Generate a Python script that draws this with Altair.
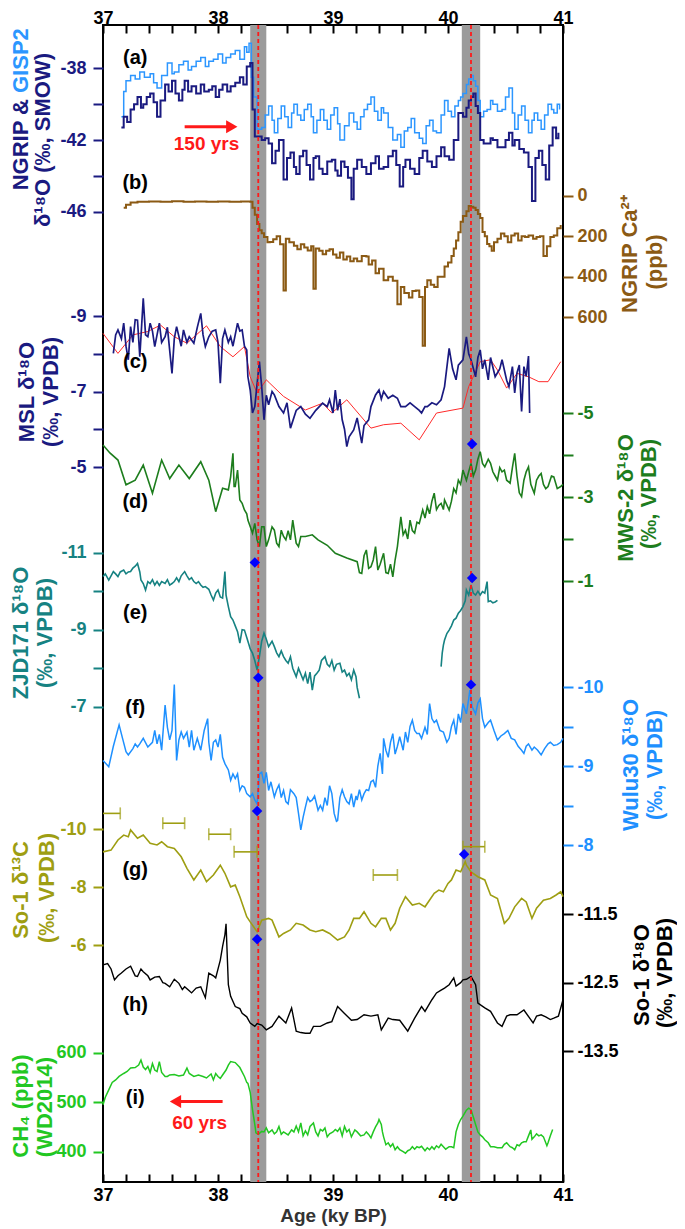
import json
import altair as alt
import pandas as pd

FONT = "Liberation Sans"

# ---------------- data ----------------
AGE_TICKS = [37.0, 37.2, 37.4, 37.6, 37.8, 38.0, 38.2, 38.4, 38.6, 38.8, 39.0,
             39.2, 39.4, 39.6, 39.8, 40.0, 40.2, 40.4, 40.6, 40.8, 41.0]
BAND_START = [38.28, 40.12]
BAND_END = [38.42, 40.28]
EVENT_AGE = [38.35, 40.20]

GISP2 = [(37.16, -40.7), (37.18, -39.3), (37.20, -38.7), (37.24, -38.4), (37.28, -38.6), (37.32, -38.2),
         (37.36, -38.5), (37.41, -38.3), (37.44, -38.8), (37.47, -39.1), (37.51, -38.4), (37.56, -37.7),
         (37.60, -38.3), (37.62, -38.2), (37.66, -37.8), (37.70, -37.6), (37.74, -38.1), (37.77, -37.9),
         (37.81, -37.6), (37.85, -37.4), (37.89, -37.9), (37.92, -37.6), (37.96, -37.5), (38.00, -37.2),
         (38.04, -37.7), (38.07, -37.4), (38.11, -37.2), (38.15, -37.0), (38.19, -37.5), (38.23, -36.8),
         (38.25, -37.1), (38.27, -36.6), (38.29, -38.5), (38.31, -39.6), (38.34, -41.4), (38.38, -41.3),
         (38.41, -40.6), (38.44, -40.1), (38.47, -40.9), (38.49, -41.6), (38.52, -40.8), (38.55, -40.1),
         (38.58, -40.7), (38.61, -41.3), (38.64, -40.5), (38.66, -40.0), (38.69, -40.6), (38.72, -40.9),
         (38.75, -40.3), (38.78, -40.0), (38.81, -40.7), (38.83, -41.6), (38.86, -40.9), (38.89, -40.3),
         (38.92, -40.9), (38.95, -41.4), (38.98, -40.6), (39.01, -40.2), (39.04, -41.1), (39.06, -42.0),
         (39.10, -41.2), (39.14, -40.5), (39.18, -41.0), (39.21, -41.4), (39.24, -40.7), (39.27, -40.3),
         (39.30, -40.0), (39.33, -39.6), (39.36, -40.4), (39.39, -40.9), (39.42, -40.2), (39.44, -40.5),
         (39.48, -41.3), (39.52, -42.0), (39.56, -41.7), (39.59, -42.4), (39.62, -41.5), (39.65, -41.3),
         (39.68, -40.8), (39.71, -41.6), (39.75, -41.9), (39.78, -42.2), (39.81, -41.2), (39.84, -40.9),
         (39.87, -41.5), (39.90, -41.6), (39.94, -40.6), (39.97, -39.8), (40.00, -40.4), (40.03, -40.7),
         (40.06, -40.1), (40.09, -39.8), (40.11, -39.6), (40.13, -39.4), (40.16, -38.9), (40.18, -38.6),
         (40.20, -38.4), (40.22, -38.7), (40.24, -39.0), (40.26, -39.8), (40.28, -40.7), (40.31, -40.4),
         (40.34, -40.3), (40.37, -39.8), (40.39, -40.0), (40.43, -40.4), (40.47, -40.3), (40.50, -39.6),
         (40.53, -39.1), (40.56, -40.5), (40.58, -41.4), (40.61, -40.6), (40.64, -40.1), (40.67, -40.9),
         (40.70, -41.6), (40.73, -40.9), (40.75, -40.5), (40.78, -40.9), (40.81, -41.4), (40.84, -40.6),
         (40.87, -40.0), (40.90, -40.3), (40.92, -40.5), (40.95, -40.0), (40.97, -40.3)]

NGRIP = [(37.16, -41.3), (37.18, -40.7), (37.21, -41.0), (37.24, -40.3), (37.27, -40.0), (37.30, -39.6),
         (37.33, -40.2), (37.35, -40.0), (37.38, -39.6), (37.41, -39.4), (37.44, -39.9), (37.47, -40.7),
         (37.50, -39.8), (37.54, -38.9), (37.57, -39.3), (37.60, -38.7), (37.63, -39.4), (37.66, -39.8),
         (37.69, -39.2), (37.71, -38.7), (37.74, -39.3), (37.77, -39.0), (37.81, -39.4), (37.85, -38.9),
         (37.88, -39.3), (37.92, -39.2), (37.95, -39.0), (37.98, -39.6), (38.01, -39.2), (38.04, -38.9),
         (38.08, -39.3), (38.11, -39.0), (38.15, -38.8), (38.19, -38.5), (38.22, -38.9), (38.25, -37.9),
         (38.28, -37.7), (38.30, -40.3), (38.32, -41.8), (38.34, -41.8), (38.38, -42.0), (38.41, -41.9),
         (38.44, -42.2), (38.47, -43.3), (38.50, -42.6), (38.53, -42.0), (38.57, -44.2), (38.60, -43.0),
         (38.63, -42.7), (38.66, -43.5), (38.68, -43.9), (38.71, -42.9), (38.74, -42.6), (38.77, -43.4),
         (38.80, -44.2), (38.83, -43.0), (38.85, -42.9), (38.88, -43.6), (38.91, -43.9), (38.95, -43.2),
         (38.99, -43.1), (39.02, -43.7), (39.04, -44.0), (39.07, -43.2), (39.10, -43.5), (39.13, -44.1),
         (39.16, -45.3), (39.18, -43.6), (39.21, -43.1), (39.25, -43.5), (39.29, -43.9), (39.33, -43.3),
         (39.37, -42.9), (39.40, -43.6), (39.44, -43.5), (39.48, -42.9), (39.52, -42.6), (39.55, -43.4),
         (39.58, -44.6), (39.61, -43.5), (39.63, -43.1), (39.67, -43.6), (39.71, -43.9), (39.75, -43.0),
         (39.78, -42.6), (39.82, -43.2), (39.86, -43.5), (39.90, -42.9), (39.94, -42.4), (39.97, -42.9),
         (40.01, -43.1), (40.05, -42.0), (40.09, -40.5), (40.13, -40.7), (40.16, -40.2), (40.18, -39.8),
         (40.20, -39.6), (40.22, -39.4), (40.24, -40.1), (40.26, -40.5), (40.28, -42.0), (40.31, -42.2),
         (40.34, -42.2), (40.37, -41.9), (40.39, -42.0), (40.43, -42.4), (40.47, -42.4), (40.50, -42.0),
         (40.53, -41.6), (40.56, -42.3), (40.58, -42.0), (40.62, -42.5), (40.66, -42.7), (40.70, -43.5),
         (40.73, -45.4), (40.76, -43.0), (40.79, -42.6), (40.82, -43.4), (40.85, -44.2), (40.88, -42.3),
         (40.91, -41.3), (40.94, -41.9), (40.96, -41.6)]

CA = [(37.18, 60), (37.20, 45), (37.24, 34), (37.30, 30), (37.40, 28), (37.50, 30), (37.60, 27), (37.70, 30),
      (37.80, 28), (37.90, 30), (38.00, 29), (38.10, 30), (38.20, 28), (38.28, 30), (38.30, 60), (38.32, 94),
      (38.34, 140), (38.36, 170), (38.38, 185), (38.40, 204), (38.43, 230), (38.45, 228), (38.48, 215),
      (38.51, 200), (38.54, 240), (38.57, 468), (38.59, 213), (38.62, 230), (38.66, 247), (38.69, 264),
      (38.72, 240), (38.75, 255), (38.78, 270), (38.81, 250), (38.83, 459), (38.85, 260), (38.88, 272),
      (38.91, 289), (38.94, 272), (38.97, 264), (39.00, 290), (39.03, 306), (39.06, 280), (39.09, 315),
      (39.12, 300), (39.15, 323), (39.18, 310), (39.21, 323), (39.25, 298), (39.29, 300), (39.31, 340),
      (39.34, 320), (39.37, 383), (39.40, 360), (39.44, 417), (39.48, 400), (39.52, 420), (39.56, 536),
      (39.59, 451), (39.62, 480), (39.66, 502), (39.69, 470), (39.72, 468), (39.75, 500), (39.78, 740),
      (39.80, 450), (39.82, 417), (39.85, 440), (39.88, 451), (39.91, 400), (39.94, 400), (39.97, 349),
      (40.00, 330), (40.03, 298), (40.05, 260), (40.07, 221), (40.09, 180), (40.11, 128), (40.13, 100),
      (40.16, 77), (40.18, 51), (40.20, 55), (40.22, 60), (40.24, 70), (40.26, 90), (40.28, 110),
      (40.30, 179), (40.32, 200), (40.34, 238), (40.36, 250), (40.38, 272), (40.40, 230), (40.43, 213),
      (40.46, 187), (40.49, 200), (40.52, 230), (40.55, 196), (40.58, 187), (40.61, 221), (40.64, 200),
      (40.67, 204), (40.70, 196), (40.74, 213), (40.77, 204), (40.80, 200), (40.83, 298), (40.86, 250),
      (40.89, 204), (40.92, 196), (40.95, 160), (40.98, 145)]

MSL = [(37.09, -8.01), (37.11, -8.5), (37.13, -8.63), (37.16, -8.4), (37.18, -8.81), (37.20, -8.2),
       (37.22, -7.84), (37.24, -8.72), (37.26, -8.3), (37.28, -8.9), (37.30, -8.89), (37.32, -7.92),
       (37.35, -9.47), (37.37, -8.5), (37.39, -8.45), (37.41, -8.81), (37.43, -8.6), (37.45, -8.19),
       (37.49, -8.81), (37.51, -8.3), (37.54, -8.45), (37.56, -8.7), (37.60, -7.48), (37.62, -8.4),
       (37.64, -8.72), (37.68, -8.2), (37.70, -8.63), (37.73, -8.3), (37.75, -8.45), (37.79, -8.28),
       (37.82, -8.7), (37.85, -9.07), (37.87, -8.5), (37.89, -8.19), (37.92, -8.45), (37.95, -8.6),
       (37.98, -8.63), (38.00, -8.3), (38.02, -7.22), (38.04, -8.4), (38.06, -8.63), (38.09, -8.3),
       (38.11, -8.45), (38.13, -8.2), (38.17, -8.81), (38.19, -8.6), (38.21, -8.63), (38.23, -8.2),
       (38.25, -8.10), (38.26, -7.39), (38.28, -7.04), (38.30, -6.43), (38.32, -6.60), (38.34, -7.2),
       (38.36, -7.79), (38.38, -7.13), (38.40, -6.25), (38.42, -6.9), (38.44, -6.65), (38.47, -7.0),
       (38.49, -6.91), (38.53, -6.6), (38.57, -6.43), (38.60, -6.7), (38.63, -6.03), (38.68, -6.5),
       (38.72, -6.60), (38.76, -6.4), (38.80, -6.29), (38.85, -6.5), (38.91, -6.69), (38.95, -6.6),
       (38.97, -6.78), (39.00, -6.43), (39.02, -7.04), (39.04, -6.5), (39.06, -6.8), (39.08, -6.25),
       (39.10, -6.0), (39.12, -5.54), (39.14, -5.8), (39.18, -5.98), (39.21, -6.3), (39.25, -5.63),
       (39.27, -6.1), (39.31, -6.25), (39.33, -6.6), (39.37, -6.91), (39.40, -7.04), (39.42, -6.8),
       (39.44, -7.0), (39.48, -6.82), (39.52, -6.9), (39.56, -6.82), (39.59, -6.6), (39.63, -6.60),
       (39.67, -6.7), (39.71, -6.60), (39.75, -6.5), (39.77, -6.43), (39.80, -6.6), (39.82, -6.60),
       (39.86, -6.7), (39.90, -6.65), (39.94, -6.78), (39.97, -7.13), (40.01, -8.14), (40.04, -7.6),
       (40.07, -7.31), (40.09, -7.7), (40.13, -7.84), (40.16, -8.45), (40.18, -8.0), (40.20, -7.84),
       (40.24, -7.39), (40.26, -7.9), (40.28, -8.10), (40.30, -7.6), (40.32, -7.84), (40.35, -7.31),
       (40.37, -7.9), (40.41, -7.39), (40.45, -7.6), (40.47, -7.84), (40.51, -7.3), (40.53, -7.13),
       (40.56, -7.66), (40.58, -6.96), (40.60, -7.5), (40.62, -7.7), (40.64, -6.47), (40.66, -7.66),
       (40.68, -7.4), (40.70, -7.94), (40.71, -6.43)]

MSL_RED = [(37.00, -8.54), (37.13, -8.01), (37.26, -8.50), (37.39, -8.59), (37.50, -8.76), (37.62, -8.45),
           (37.73, -8.28), (37.90, -8.74), (38.02, -8.19), (38.13, -7.92), (38.23, -8.19), (38.28, -7.39),
           (38.34, -6.96), (38.42, -7.31), (38.45, -7.22), (38.57, -6.87), (38.76, -6.51), (38.91, -6.69),
           (38.99, -6.43), (39.12, -6.78), (39.33, -6.03), (39.44, -6.12), (39.59, -6.16), (39.75, -5.72),
           (39.90, -6.43), (40.13, -6.56), (40.18, -7.13), (40.28, -7.79), (40.37, -7.84), (40.43, -7.57),
           (40.51, -7.09), (40.60, -7.48), (40.70, -7.39), (40.79, -7.26), (40.87, -7.26), (40.98, -7.79)]

MWS2 = [(37.00, -4.24), (37.06, -4.05), (37.13, -3.88), (37.20, -3.29), (37.28, -3.40), (37.35, -3.76),
        (37.43, -3.09), (37.51, -3.88), (37.58, -3.44), (37.66, -3.76), (37.75, -3.44), (37.85, -3.84),
        (37.92, -3.40), (37.98, -2.65), (38.04, -3.21), (38.09, -3.17), (38.11, -3.48), (38.13, -4.04),
        (38.14, -3.25), (38.15, -3.25), (38.17, -3.64), (38.19, -2.93), (38.21, -2.85), (38.23, -2.69),
        (38.25, -2.60), (38.26, -2.45), (38.28, -2.30), (38.30, -2.14), (38.32, -2.37), (38.34, -1.98),
        (38.36, -1.82), (38.38, -2.29), (38.40, -2.29), (38.42, -1.82), (38.44, -1.98), (38.47, -2.29),
        (38.49, -2.21), (38.51, -1.90), (38.53, -1.82), (38.55, -2.21), (38.57, -2.06), (38.59, -1.98),
        (38.61, -2.20), (38.63, -1.98), (38.65, -2.45), (38.68, -1.90), (38.70, -1.82), (38.72, -2.06),
        (38.76, -2.06), (38.82, -2.10), (38.87, -1.98), (38.95, -1.85), (39.02, -1.66), (39.12, -1.55),
        (39.21, -1.46), (39.23, -1.20), (39.25, -1.18), (39.27, -1.60), (39.29, -1.74), (39.31, -1.30),
        (39.33, -1.34), (39.35, -1.50), (39.37, -1.82), (39.39, -1.26), (39.41, -1.40), (39.44, -1.66),
        (39.46, -1.20), (39.48, -1.18), (39.50, -1.40), (39.52, -1.10), (39.54, -1.50), (39.56, -1.82),
        (39.59, -2.53), (39.61, -2.10), (39.63, -2.21), (39.65, -2.00), (39.67, -2.45), (39.69, -2.20),
        (39.71, -2.14), (39.73, -2.40), (39.75, -2.37), (39.78, -2.69), (39.80, -2.50), (39.82, -2.77),
        (39.84, -2.60), (39.86, -2.90), (39.88, -3.09), (39.90, -2.70), (39.92, -2.80), (39.94, -2.85),
        (39.96, -2.70), (39.97, -2.93), (40.01, -2.69), (40.03, -2.90), (40.05, -3.20), (40.07, -3.10),
        (40.09, -3.40), (40.11, -3.30), (40.13, -3.64), (40.16, -3.40), (40.18, -3.60), (40.20, -3.80),
        (40.22, -3.50), (40.24, -3.64), (40.26, -3.90), (40.28, -4.08), (40.30, -3.80), (40.32, -3.72),
        (40.35, -3.90), (40.37, -3.80), (40.39, -3.60), (40.41, -3.50), (40.43, -3.40), (40.45, -3.70),
        (40.47, -3.60), (40.49, -3.64), (40.51, -3.40), (40.54, -3.33), (40.56, -3.70), (40.58, -4.04),
        (40.60, -3.50), (40.62, -3.10), (40.64, -3.01), (40.66, -3.40), (40.68, -3.60), (40.70, -3.72),
        (40.72, -3.30), (40.75, -3.09), (40.77, -3.40), (40.79, -3.50), (40.81, -3.56), (40.83, -3.30),
        (40.85, -3.20), (40.87, -3.25), (40.90, -3.50), (40.92, -3.48), (40.95, -3.20), (40.98, -3.25),
        (41.00, -3.30)]

ZJD171_A = [(37.00, -10.38), (37.02, -10.45), (37.05, -10.29), (37.07, -10.40), (37.09, -10.51),
            (37.11, -10.45), (37.13, -10.38), (37.15, -10.50), (37.18, -10.55), (37.20, -10.45),
            (37.22, -10.50), (37.24, -10.51), (37.26, -10.60), (37.28, -10.65), (37.30, -10.72),
            (37.32, -10.50), (37.33, -10.29), (37.35, -10.20), (37.37, -10.03), (37.39, -10.25),
            (37.41, -10.20), (37.43, -10.30), (37.45, -10.16), (37.47, -10.25), (37.49, -10.15),
            (37.51, -10.25), (37.54, -10.20), (37.56, -10.30), (37.58, -10.16), (37.60, -10.20),
            (37.62, -10.25), (37.64, -10.35), (37.66, -10.25), (37.68, -10.40), (37.71, -10.51),
            (37.73, -10.40), (37.75, -10.30), (37.77, -10.35), (37.79, -10.25), (37.81, -10.20),
            (37.83, -10.25), (37.85, -10.16), (37.87, -10.10), (37.89, -10.12), (37.92, -10.05),
            (37.94, -9.90), (37.96, -9.77), (37.98, -9.95), (38.00, -10.03), (38.02, -9.85),
            (38.04, -9.82), (38.06, -10.51), (38.07, -9.90), (38.09, -9.60), (38.11, -9.34),
            (38.13, -9.25), (38.15, -9.10), (38.17, -8.95), (38.19, -8.65), (38.21, -9.00),
            (38.23, -8.99), (38.25, -8.80), (38.27, -8.60), (38.28, -8.50), (38.30, -8.39),
            (38.32, -8.20), (38.34, -7.95), (38.36, -8.30), (38.38, -8.70), (38.40, -8.91),
            (38.42, -8.75), (38.44, -8.56), (38.47, -8.70), (38.49, -8.56), (38.51, -8.40),
            (38.53, -8.30), (38.55, -8.45), (38.57, -8.30), (38.59, -8.20), (38.61, -8.13),
            (38.63, -8.30), (38.65, -8.00), (38.68, -7.78), (38.70, -8.00), (38.72, -7.85),
            (38.74, -7.70), (38.76, -7.87), (38.78, -7.60), (38.80, -7.90), (38.82, -7.43),
            (38.84, -7.80), (38.86, -7.87), (38.88, -7.95), (38.90, -8.20), (38.93, -8.30),
            (38.95, -8.10), (38.97, -8.04), (38.99, -8.20), (39.01, -7.95), (39.03, -8.10),
            (39.06, -8.13), (39.08, -7.90), (39.10, -7.95), (39.12, -7.80), (39.14, -7.87),
            (39.16, -7.70), (39.18, -7.95), (39.20, -7.78), (39.21, -7.50), (39.23, -7.22)]

ZJD171_B = [(39.94, -8.04), (39.95, -8.40), (39.96, -8.60), (39.97, -8.73), (39.99, -8.90), (40.01, -8.99),
            (40.03, -9.10), (40.05, -9.25), (40.07, -9.30), (40.09, -9.43), (40.11, -9.50), (40.13, -9.60),
            (40.15, -9.75), (40.16, -10.03), (40.18, -9.90), (40.20, -10.16), (40.22, -9.95), (40.24, -9.90),
            (40.26, -10.00), (40.28, -9.90), (40.30, -9.99), (40.32, -9.95), (40.34, -10.25), (40.35, -9.73),
            (40.37, -9.75), (40.39, -9.70), (40.41, -9.72), (40.43, -9.76)]

WULU30 = [(37.00, -9.07), (37.05, -8.99), (37.09, -9.25), (37.14, -9.52), (37.17, -9.35), (37.20, -9.18),
          (37.22, -9.14), (37.26, -9.22), (37.28, -9.28), (37.30, -9.24), (37.32, -9.28), (37.35, -9.35),
          (37.39, -9.24), (37.43, -9.30), (37.45, -9.45), (37.47, -9.28), (37.49, -9.40), (37.51, -9.20),
          (37.54, -9.77), (37.56, -9.49), (37.58, -9.33), (37.60, -9.45), (37.62, -10.03), (37.64, -9.07),
          (37.66, -9.33), (37.68, -9.43), (37.70, -9.35), (37.73, -9.43), (37.75, -9.24), (37.77, -9.45),
          (37.79, -9.20), (37.82, -9.35), (37.85, -9.20), (37.88, -9.45), (37.91, -9.60), (37.92, -9.30),
          (37.94, -9.07), (37.96, -9.30), (37.98, -9.33), (38.00, -9.24), (38.02, -9.40), (38.04, -9.11),
          (38.06, -9.03), (38.09, -8.95), (38.11, -8.82), (38.13, -8.90), (38.15, -8.84), (38.17, -8.90),
          (38.19, -8.69), (38.21, -8.75), (38.23, -8.73), (38.25, -8.65), (38.28, -8.61), (38.30, -8.65),
          (38.32, -8.57), (38.34, -8.52), (38.36, -8.90), (38.38, -8.92), (38.40, -8.78), (38.42, -8.92),
          (38.44, -8.69), (38.46, -8.80), (38.49, -8.61), (38.51, -8.70), (38.53, -8.76), (38.55, -8.60),
          (38.57, -8.69), (38.59, -8.55), (38.61, -8.52), (38.63, -8.70), (38.66, -8.65), (38.68, -8.60),
          (38.70, -8.40), (38.72, -8.19), (38.74, -8.35), (38.76, -8.48), (38.78, -8.60), (38.80, -8.55),
          (38.82, -8.57), (38.84, -8.62), (38.87, -8.44), (38.89, -8.50), (38.91, -8.44), (38.93, -8.60),
          (38.95, -8.50), (38.97, -8.75), (38.99, -8.65), (39.01, -8.40), (39.03, -8.30), (39.04, -8.31),
          (39.06, -8.60), (39.08, -8.70), (39.10, -8.61), (39.12, -8.55), (39.14, -8.52), (39.16, -8.65),
          (39.18, -8.48), (39.20, -8.62), (39.21, -8.57), (39.23, -8.70), (39.25, -8.57), (39.27, -8.65),
          (39.29, -8.70), (39.31, -8.69), (39.33, -8.80), (39.35, -8.82), (39.37, -8.73), (39.39, -9.00),
          (39.41, -9.16), (39.43, -8.90), (39.44, -9.35), (39.46, -9.20), (39.48, -9.11), (39.50, -9.30),
          (39.52, -9.41), (39.54, -9.15), (39.56, -9.25), (39.58, -9.37), (39.61, -9.20), (39.63, -9.43),
          (39.65, -9.30), (39.67, -9.50), (39.69, -9.58), (39.71, -9.45), (39.73, -9.41), (39.75, -9.41),
          (39.77, -9.35), (39.80, -9.49), (39.82, -9.40), (39.84, -9.79), (39.86, -9.60), (39.88, -9.55),
          (39.90, -9.58), (39.93, -9.45), (39.96, -9.43), (39.99, -9.30), (40.01, -9.35), (40.03, -9.50),
          (40.05, -9.58), (40.07, -9.40), (40.09, -9.66), (40.11, -9.55), (40.13, -9.79), (40.16, -9.66),
          (40.18, -9.85), (40.19, -9.96), (40.21, -9.75), (40.24, -9.66), (40.26, -9.80), (40.28, -9.85),
          (40.30, -9.60), (40.32, -9.49), (40.35, -9.55), (40.37, -9.58), (40.40, -9.45), (40.43, -9.33),
          (40.46, -9.38), (40.49, -9.41), (40.52, -9.45), (40.55, -9.35), (40.58, -9.33), (40.61, -9.25),
          (40.64, -9.20), (40.66, -9.16), (40.68, -9.25), (40.70, -9.28), (40.73, -9.20), (40.75, -9.24),
          (40.78, -9.20), (40.81, -9.14), (40.84, -9.22), (40.87, -9.28), (40.89, -9.30), (40.92, -9.26),
          (40.95, -9.27), (40.98, -9.30), (41.00, -9.35)]

SO1_C13 = [(37.00, -9.22), (37.07, -9.28), (37.13, -9.63), (37.18, -9.80), (37.22, -9.74), (37.24, -9.98),
           (37.30, -9.69), (37.35, -9.80), (37.41, -9.52), (37.47, -9.46), (37.51, -9.57), (37.56, -9.40),
           (37.62, -9.34), (37.68, -9.05), (37.73, -8.65), (37.79, -8.25), (37.85, -8.59), (37.90, -8.19),
           (37.96, -8.42), (38.02, -8.76), (38.06, -8.48), (38.11, -8.01), (38.15, -8.07), (38.19, -7.67),
           (38.25, -6.98), (38.28, -6.80), (38.34, -6.46), (38.38, -6.86), (38.44, -6.92), (38.47, -6.86),
           (38.53, -6.28), (38.57, -6.40), (38.63, -6.52), (38.68, -6.75), (38.74, -6.69), (38.80, -6.52),
           (38.85, -6.46), (38.91, -6.52), (38.97, -6.40), (39.04, -6.17), (39.10, -6.28), (39.14, -6.52),
           (39.18, -6.92), (39.23, -6.92), (39.27, -7.15), (39.33, -6.75), (39.37, -6.63), (39.42, -6.92),
           (39.46, -6.92), (39.50, -6.52), (39.54, -6.75), (39.58, -7.27), (39.63, -7.67), (39.69, -7.38),
           (39.75, -7.44), (39.80, -7.32), (39.88, -7.79), (39.92, -7.90), (39.96, -7.84), (40.00, -8.13),
           (40.03, -8.25), (40.07, -8.59), (40.11, -8.53), (40.15, -8.88), (40.16, -8.76), (40.20, -8.53),
           (40.26, -8.36), (40.32, -8.25), (40.37, -7.73), (40.43, -7.61), (40.49, -6.75), (40.53, -6.92),
           (40.58, -7.32), (40.64, -7.61), (40.68, -7.49), (40.73, -6.92), (40.77, -7.27), (40.83, -7.55),
           (40.89, -7.61), (40.94, -7.73), (40.98, -7.84), (41.00, -7.67)]

SO1_O18 = [(37.00, -12.24), (37.04, -12.22), (37.07, -12.30), (37.10, -12.46), (37.13, -12.40),
           (37.16, -12.36), (37.20, -12.30), (37.24, -12.26), (37.28, -12.40), (37.30, -12.41),
           (37.33, -12.30), (37.35, -12.34), (37.39, -12.40), (37.41, -12.46), (37.45, -12.42),
           (37.49, -12.41), (37.52, -12.50), (37.54, -12.51), (37.58, -12.56), (37.62, -12.45),
           (37.66, -12.51), (37.69, -12.60), (37.71, -12.56), (37.75, -12.62), (37.77, -12.65),
           (37.81, -12.58), (37.85, -12.56), (37.89, -12.72), (37.92, -12.36), (37.96, -12.40),
           (37.98, -12.43), (38.02, -12.17), (38.04, -11.97), (38.06, -11.80), (38.07, -11.64),
           (38.09, -12.53), (38.11, -12.70), (38.15, -12.85), (38.19, -12.88), (38.21, -12.95),
           (38.25, -13.00), (38.28, -13.09), (38.32, -13.14), (38.34, -13.10), (38.38, -13.12),
           (38.42, -13.19), (38.47, -13.14), (38.53, -12.99), (38.59, -13.09), (38.64, -12.87),
           (38.68, -13.21), (38.72, -13.23), (38.76, -13.24), (38.80, -13.24), (38.83, -13.14),
           (38.89, -13.14), (38.95, -13.09), (38.99, -13.07), (39.04, -12.85), (39.10, -12.95),
           (39.16, -13.05), (39.21, -13.04), (39.27, -12.97), (39.33, -12.99), (39.39, -12.97),
           (39.42, -13.19), (39.48, -13.02), (39.52, -13.04), (39.58, -13.05), (39.65, -13.21),
           (39.71, -13.02), (39.77, -12.85), (39.80, -12.92), (39.86, -12.75), (39.88, -12.70),
           (39.90, -12.65), (39.94, -12.61), (39.97, -12.58), (40.01, -12.53), (40.05, -12.43),
           (40.07, -12.55), (40.11, -12.50), (40.13, -12.46), (40.16, -12.45), (40.20, -12.41),
           (40.24, -12.53), (40.26, -12.80), (40.32, -12.87), (40.37, -12.92), (40.43, -13.09),
           (40.47, -13.14), (40.51, -12.99), (40.54, -12.97), (40.60, -12.97), (40.66, -12.90),
           (40.74, -13.09), (40.77, -12.99), (40.81, -12.97), (40.85, -13.00), (40.89, -13.04),
           (40.92, -13.02), (40.96, -12.99), (41.00, -12.75)]

CH4 = [(37.00, 495), (37.02, 510), (37.05, 525), (37.08, 540), (37.11, 545), (37.14, 552), (37.18, 558),
       (37.21, 562), (37.24, 569), (37.28, 570), (37.31, 575), (37.33, 585), (37.35, 571), (37.37, 566),
       (37.39, 572), (37.41, 560), (37.43, 578), (37.45, 565), (37.47, 562), (37.49, 582), (37.51, 560),
       (37.54, 552), (37.56, 552), (37.58, 555), (37.62, 556), (37.66, 553), (37.70, 555), (37.73, 569),
       (37.75, 558), (37.79, 552), (37.83, 555), (37.87, 552), (37.90, 549), (37.94, 557), (37.96, 545),
       (37.98, 558), (38.00, 552), (38.02, 548), (38.04, 555), (38.07, 565), (38.09, 575), (38.11, 582),
       (38.15, 580), (38.19, 570), (38.23, 552), (38.25, 540), (38.26, 538), (38.28, 520), (38.30, 485),
       (38.32, 455), (38.33, 438), (38.35, 435), (38.38, 441), (38.40, 440), (38.42, 448), (38.44, 438),
       (38.47, 444), (38.49, 436), (38.51, 440), (38.53, 451), (38.55, 435), (38.57, 440), (38.61, 434),
       (38.64, 444), (38.66, 440), (38.68, 452), (38.70, 440), (38.72, 458), (38.74, 432), (38.76, 442),
       (38.78, 434), (38.80, 451), (38.83, 458), (38.85, 440), (38.87, 432), (38.89, 445), (38.91, 442),
       (38.93, 448), (38.95, 430), (38.97, 436), (39.00, 440), (39.02, 445), (39.04, 441), (39.06, 448),
       (39.08, 432), (39.10, 451), (39.12, 440), (39.14, 445), (39.16, 430), (39.19, 444), (39.21, 440),
       (39.24, 432), (39.27, 434), (39.29, 440), (39.31, 435), (39.33, 428), (39.35, 440), (39.37, 450),
       (39.39, 458), (39.40, 465), (39.42, 455), (39.43, 440), (39.44, 430), (39.46, 414), (39.48, 418),
       (39.50, 410), (39.52, 416), (39.54, 404), (39.56, 410), (39.58, 404), (39.61, 400), (39.63, 397),
       (39.65, 402), (39.67, 404), (39.69, 410), (39.71, 405), (39.73, 410), (39.75, 408), (39.77, 411),
       (39.80, 402), (39.82, 408), (39.84, 404), (39.86, 410), (39.88, 405), (39.90, 412), (39.92, 408),
       (39.94, 415), (39.96, 410), (39.98, 405), (40.01, 410), (40.03, 410), (40.05, 408), (40.07, 440),
       (40.09, 455), (40.11, 465), (40.13, 472), (40.16, 484), (40.18, 488), (40.20, 485), (40.22, 470),
       (40.24, 455), (40.26, 440), (40.28, 434), (40.30, 430), (40.32, 424), (40.35, 418), (40.37, 410),
       (40.40, 410), (40.43, 408), (40.47, 408), (40.49, 415), (40.51, 418), (40.54, 410), (40.56, 408),
       (40.58, 404), (40.60, 414), (40.62, 412), (40.64, 418), (40.66, 420), (40.68, 420), (40.70, 432),
       (40.72, 444), (40.73, 425), (40.75, 430), (40.77, 436), (40.79, 432), (40.81, 434), (40.83, 430),
       (40.86, 412), (40.87, 418), (40.89, 432), (40.91, 445)]

SO1_ERR_LO = [36.95, 37.52, 37.92, 38.14, 39.35, 40.13]
SO1_ERR_HI = [37.15, 37.71, 38.11, 38.34, 39.56, 40.32]
SO1_ERR_VAL = [-10.55, -10.21, -9.83, -9.22, -8.42, -9.40]

DIAMONDS = {
    "mws": [(40.21, -4.26), (38.32, -1.44)],
    "zjd": [(40.21, -10.34), (38.35, -7.75)],
    "wulu": [(40.20, -10.03), (38.34, -8.43)],
    "so1c": [(40.14, -9.14), (38.34, -6.20)],
}

PANEL_LABELS = [("(a)", "a", 37.28, -37.4), ("(b)", "a", 37.28, -44.4), ("(c)", "msl", 37.28, -7.78),
                ("(d)", "mws", 37.28, -2.88), ("(e)", "zjd", 37.28, -9.43), ("(f)", "wulu", 37.28, -9.73),
                ("(g)", "so1c", 37.28, -8.59), ("(h)", "so1o", 37.28, -12.82), ("(i)", "ch4", 37.28, 508.8)]

# ---------------- layout ----------------
LEFT, TOP, RIGHT, BOTTOM = 103, 25, 563, 1182
W, H = RIGHT - LEFT, BOTTOM - TOP

# data domain -> page rows of each stacked panel
PANEL = {
    "a": ([-46, -38], [211.7, 68.3]),
    "ca": ([0, 600], [195.7, 317.3]),
    "msl": ([-9, -5], [316, 467]),
    "mws": ([-5, -1], [413, 581]),
    "zjd": ([-11, -7], [552.7, 706.7]),
    "wulu": ([-10, -8], [687, 845]),
    "so1c": ([-10, -6], [829.3, 945]),
    "so1o": ([-13.5, -11.5], [1051, 914.3]),
    "ch4": ([400, 600], [1151.7, 1052.7]),
}

NAVY, LBLUE, BROWN, RED = "#1a1a80", "#2c96ff", "#8b5a14", "#ff2a2a"
DGREEN, TEAL, WBLUE, OLIVE, CH4G = "#1d7d1d", "#168282", "#1e90ff", "#9e9e12", "#22c722"

XS = alt.Scale(domain=[37, 41], nice=False, zero=False)


def ysc(k):
    dom, rows = PANEL[k]
    return alt.Scale(domain=dom, range=[r - TOP for r in rows], nice=False, zero=False)


def yaxis(orient, values, labelled, color):
    expr = "indexof(%s, datum.value) >= 0 ? '' + datum.value : ''" % json.dumps(labelled)
    return alt.Axis(orient=orient, values=values, labelExpr=expr, title=None, domain=False, grid=False,
                    tickSize=10, tickWidth=2, tickColor=color, labelColor=color, labelFont=FONT,
                    labelFontSize=18, labelFontWeight="bold", labelPadding=7 if orient == "left" else 4,
                    labelOverlap=False, labelFlush=False)


XLBL = "abs(datum.value - round(datum.value)) < 0.01 ? '' + round(datum.value) : ''"
xcommon = dict(values=AGE_TICKS, labelExpr=XLBL, offset=-8, tickSize=8, tickWidth=2, tickColor="black",
               domain=False, grid=False, labelFont=FONT, labelFontSize=18, labelFontWeight="bold",
               labelColor="black", labelFlush=False, labelOverlap=False)
x_top = alt.Axis(orient="top", title=None, labelPadding=-2, **xcommon)
x_bottom = alt.Axis(orient="bottom", title="Age (ky BP)", labelPadding=4, titleFont=FONT, titleFontSize=19,
                    titleFontWeight="bold", titleColor="#333333", titlePadding=2, **xcommon)


def series(pairs, k, color, width, interp="linear", axis=None):
    df = pd.DataFrame(pairs, columns=["age", "v"])
    return alt.Chart(df).mark_line(color=color, strokeWidth=width, interpolate=interp).encode(
        x=alt.X("age:Q", scale=XS, axis=None),
        y=alt.Y("v:Q", scale=ysc(k), axis=axis))


layers = []

# shaded events and top axis
layers.append(alt.Chart(pd.DataFrame({"s": BAND_START, "e": BAND_END})).mark_rect(color="#9b9b9b").encode(
    x=alt.X("s:Q", scale=XS, axis=x_top), x2="e:Q"))

# series
layers += [
    series(GISP2, "a", LBLUE, 1.5, "step-after"),
    series(NGRIP, "a", NAVY, 2, "step-after",
           yaxis("left", [-46, -44, -42, -40, -38], [-46, -42, -38], NAVY)),
    series(CA, "ca", BROWN, 2, "step-after", yaxis("right", [0, 200, 400, 600], [0, 200, 400, 600], BROWN)),
    series(MSL_RED, "msl", RED, 1),
    series(MSL, "msl", NAVY, 1.7, axis=yaxis("left", [-9, -8, -7, -6, -5], [-9, -7, -5], NAVY)),
    series(MWS2, "mws", DGREEN, 1.6, axis=yaxis("right", [-5, -4, -3, -2, -1], [-5, -3, -1], DGREEN)),
    series(ZJD171_A, "zjd", TEAL, 1.6, axis=yaxis("left", [-11, -10, -9, -8, -7], [-11, -9, -7], TEAL)),
    series(ZJD171_B, "zjd", TEAL, 1.6),
    series(WULU30, "wulu", WBLUE, 1.5,
           axis=yaxis("right", [-10, -9.5, -9, -8.5, -8], [-10, -9, -8], WBLUE)),
    series(SO1_C13, "so1c", OLIVE, 1.6, axis=yaxis("left", [-10, -8, -6], [-10, -8, -6], OLIVE)),
    series(SO1_O18, "so1o", "black", 1.4,
           axis=yaxis("right", [-11.5, -12.5, -13.5], [-11.5, -12.5, -13.5], "black")),
    series(CH4, "ch4", CH4G, 1.5, axis=yaxis("left", [400, 500, 600], [400, 500, 600], CH4G)),
]

# event lines + bottom axis
layers.append(alt.Chart(pd.DataFrame({"a": EVENT_AGE})).mark_rule(
    color="#ff1a1a", strokeWidth=1.8, strokeDash=[4, 3]).encode(x=alt.X("a:Q", scale=XS, axis=x_bottom)))

# So-1 age error bars
err = pd.DataFrame({"lo": SO1_ERR_LO, "hi": SO1_ERR_HI, "v": SO1_ERR_VAL})
layers.append(alt.Chart(err).mark_rule(color=OLIVE, strokeWidth=1.6, clip=True).encode(
    x=alt.X("lo:Q", scale=XS, axis=None), x2="hi:Q", y=alt.Y("v:Q", scale=ysc("so1c"), axis=None)))
for col in ["lo", "hi"]:
    layers.append(alt.Chart(err).mark_tick(color=OLIVE, thickness=1.6, size=12, orient="vertical",
                                           clip=True).encode(
        x=alt.X(col + ":Q", scale=XS, axis=None), y=alt.Y("v:Q", scale=ysc("so1c"), axis=None)))

# diamonds
for k, pts in DIAMONDS.items():
    df = pd.DataFrame(pts, columns=["age", "v"])
    layers.append(alt.Chart(df).mark_point(shape="diamond", filled=True, color="#0000ff", size=110,
                                           opacity=1).encode(
        x=alt.X("age:Q", scale=XS, axis=None), y=alt.Y("v:Q", scale=ysc(k), axis=None)))

# panel labels
for txt, k, age, v in PANEL_LABELS:
    layers.append(alt.Chart(pd.DataFrame({"t": [txt], "age": [age], "v": [v]})).mark_text(
        font=FONT, fontSize=20, fontWeight="bold", color="black").encode(
        x=alt.X("age:Q", scale=XS, axis=None), y=alt.Y("v:Q", scale=ysc(k), axis=None), text="t:N"))

# offsets: 150 yrs / 60 yrs
ann = [("150 yrs", "a", 37.90, -42.2), ("60 yrs", "ch4", 37.84, 458)]
for txt, k, age, v in ann:
    layers.append(alt.Chart(pd.DataFrame({"t": [txt], "age": [age], "v": [v]})).mark_text(
        font=FONT, fontSize=19, fontWeight="bold", color="#ff1a1a").encode(
        x=alt.X("age:Q", scale=XS, axis=None), y=alt.Y("v:Q", scale=ysc(k), axis=None), text="t:N"))

arrows = [("a", 37.71, 38.09, 38.12, -41.26, "triangle-right"),
          ("ch4", 37.67, 38.04, 37.63, 501.4, "triangle-left")]
for k, x0, x1, xh, v, shp in arrows:
    df = pd.DataFrame({"x0": [x0], "x1": [x1], "xh": [xh], "v": [v]})
    layers.append(alt.Chart(df).mark_rule(color="#ff1a1a", strokeWidth=3).encode(
        x=alt.X("x0:Q", scale=XS, axis=None), x2="x1:Q", y=alt.Y("v:Q", scale=ysc(k), axis=None)))
    layers.append(alt.Chart(df).mark_point(shape=shp, filled=True, color="#ff1a1a", size=170, opacity=1).encode(
        x=alt.X("xh:Q", scale=XS, axis=None), y=alt.Y("v:Q", scale=ysc(k), axis=None)))

# axis titles (rotated, page coordinates of their centres)
TITLES = [
    ("δ¹⁸O (‰, SMOW)", 43, 140, NAVY, "center"),
    ("MSL δ¹⁸O", 27, 392, NAVY, "center"), ("(‰, VPDB)", 51, 392, NAVY, "center"),
    ("ZJD171 δ¹⁸O", 21, 633, TEAL, "center"), ("(‰, VPDB)", 45, 633, TEAL, "center"),
    ("So-1 δ¹³C", 21, 890, OLIVE, "center"), ("(‰, VPDB)", 47, 888, OLIVE, "center"),
    ("CH₄ (ppb)", 21, 1106, CH4G, "center"), ("(WD2014)", 45, 1107, CH4G, "center"),
    ("NGRIP Ca²⁺", 630, 254, BROWN, "center"), ("(ppb)", 655, 262, BROWN, "center"),
    ("MWS-2 δ¹⁸O", 626, 498, DGREEN, "center"), ("(‰, VPDB)", 649, 494, DGREEN, "center"),
    ("Wulu30 δ¹⁸O", 631, 765, WBLUE, "center"), ("(‰, VPDB)", 655, 765, WBLUE, "center"),
    ("So-1 δ¹⁸O", 642, 975, "black", "center"), ("(‰, VPDB)", 665, 973, "black", "center"),
    ("NGRIP &", 21, 99, NAVY, "right"), ("GISP2", 21, 93, LBLUE, "left"),
]
for txt, px, py, col, al in TITLES:
    layers.append(alt.Chart(pd.DataFrame({"t": [txt]})).mark_text(
        angle=270, align=al, baseline="middle", font=FONT, fontSize=22, fontWeight="bold", color=col).encode(
        x=alt.value(px - LEFT), y=alt.value(py - TOP), text="t:N"))

chart = alt.layer(*layers).resolve_scale(y="independent").resolve_axis(
    x="independent", y="independent").properties(
    width=W, height=H,
    autosize=alt.AutoSizeParams(type="none"),
    padding={"left": LEFT - 8, "top": TOP - 8, "right": 677 - RIGHT - 8 + 8, "bottom": 1229 - BOTTOM},
).configure_view(stroke="black", strokeWidth=2)

chart.save("out.html", embed_options={"renderer": "svg", "actions": False})
